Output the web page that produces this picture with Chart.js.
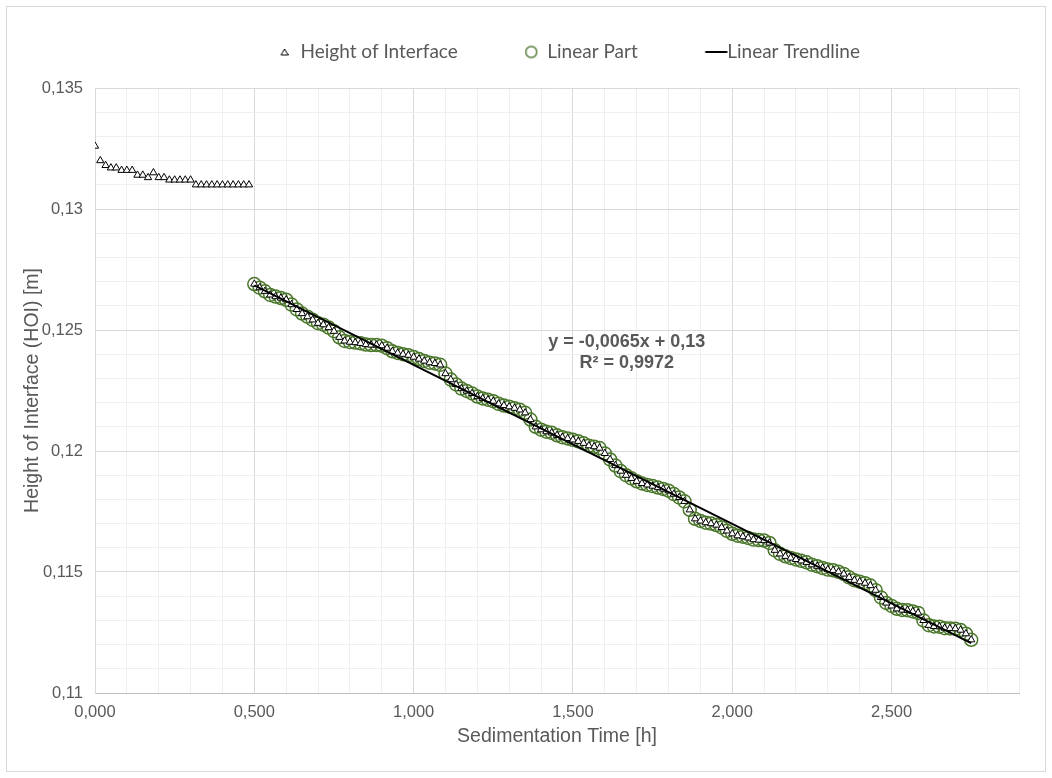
<!DOCTYPE html>
<html>
<head>
<meta charset="utf-8">
<script src="https://cdn.jsdelivr.net/npm/chart.js@4.4.0/dist/chart.umd.min.js"></script>
<style>
  html, body { margin: 0; padding: 0; background: #fff; }
  #wrap { position: relative; width: 1052px; height: 778px; }
  #wrap canvas { position: absolute; left: 0; top: 0; }
  #frame { position: absolute; left: 6px; top: 6px; width: 1038px; height: 764px; border: 1px solid #d9d9d9; pointer-events: none; }
</style>
</head>
<body>
<div id="wrap">
  <canvas id="chart" width="1052" height="778"></canvas>
  <div id="frame"></div>
</div>
<script>
// one reading per minute, time axis in hours
const minutesPerReading = 1;

// readings before the linear settling part (minute 0 - 29), m
const earlyHeight = [
  0.1326, 0.1320, 0.1318, 0.1317, 0.1317, 0.1316, 0.1316, 0.1316, 0.1314, 0.1314,
  0.1313, 0.1315, 0.1313, 0.1313, 0.1312, 0.1312, 0.1312, 0.1312, 0.1312, 0.1310,
  0.1310, 0.1310, 0.1310, 0.1310, 0.1310, 0.1310, 0.1310, 0.1310, 0.1310, 0.1310
];

// linear part (minute 30 - 165), m
const linearHeight = [
  0.12690, 0.12675, 0.12660, 0.12645, 0.12638, 0.12632, 0.12625, 0.12605, 0.12585, 0.12568,
  0.12555, 0.12542, 0.12528, 0.12522, 0.12510, 0.12495, 0.12470, 0.12455, 0.12450, 0.12448,
  0.12445, 0.12440, 0.12438, 0.12438, 0.12435, 0.12425, 0.12412, 0.12405, 0.12400, 0.12396,
  0.12388, 0.12380, 0.12372, 0.12365, 0.12362, 0.12356, 0.12320, 0.12295, 0.12275, 0.12258,
  0.12248, 0.12238, 0.12225, 0.12217, 0.12212, 0.12206, 0.12195, 0.12188, 0.12183, 0.12177,
  0.12170, 0.12158, 0.12130, 0.12100, 0.12088, 0.12080, 0.12075, 0.12065, 0.12057, 0.12052,
  0.12046, 0.12040, 0.12032, 0.12022, 0.12018, 0.12012, 0.11990, 0.11965, 0.11940, 0.11917,
  0.11900, 0.11887, 0.11875, 0.11866, 0.11860, 0.11855, 0.11849, 0.11843, 0.11836, 0.11822,
  0.11808, 0.11792, 0.11757, 0.11720, 0.11711, 0.11704, 0.11700, 0.11694, 0.11684, 0.11670,
  0.11658, 0.11650, 0.11646, 0.11641, 0.11634, 0.11632, 0.11630, 0.11620, 0.11590, 0.11575,
  0.11565, 0.11558, 0.11552, 0.11546, 0.11540, 0.11530, 0.11524, 0.11517, 0.11510, 0.11507,
  0.11501, 0.11492, 0.11478, 0.11466, 0.11460, 0.11454, 0.11444, 0.11425, 0.11395, 0.11372,
  0.11360, 0.11348, 0.11343, 0.11342, 0.11337, 0.11331, 0.11300, 0.11280, 0.11275, 0.11274,
  0.11268, 0.11267, 0.11266, 0.11260, 0.11245, 0.11220
];

const seriesNames = ["Height of Interface", "Linear Part", "Linear Trendline"];
const equationLines = ["y = -0,0065x + 0,13", "R\u00b2 = 0,9972"];

// axis settings
const xMin = 0, xMax = 2.9, xMinor = 0.1, xMajor = 0.5;
const yMin = 0.11, yMax = 0.135, yMinor = 0.001, yMajor = 0.005;

const grey = "#595959";
const green = "#4a772b";

let allHeight = earlyHeight.concat(linearHeight);
let heightPoints = allHeight.map((v, i) => ({ x: i * minutesPerReading / 60, y: v }));
let linearPoints = heightPoints.slice(earlyHeight.length);

// least squares fit over the linear part, like the spreadsheet trendline
let n = linearPoints.length;
let sx = 0, sy = 0, sxx = 0, sxy = 0;
linearPoints.forEach(p => { sx += p.x; sy += p.y; sxx += p.x * p.x; sxy += p.x * p.y; });
let slope = (n * sxy - sx * sy) / (n * sxx - sx * sx);
let intercept = (sy - slope * sx) / n;
let x0 = linearPoints[0].x, x1 = linearPoints[n - 1].x;
let trendPoints = [{ x: x0, y: intercept + slope * x0 }, { x: x1, y: intercept + slope * x1 }];

function isMultiple(v, step) {
  return Math.abs(v / step - Math.round(v / step)) < 1e-6;
}

function marker(w, h, draw) {
  let c = document.createElement("canvas");
  c.width = w; c.height = h;
  draw(c.getContext("2d"));
  return c;
}

// legend box is wide (46px) to get the gaps between items;
// markers are drawn in the right part of it, next to the text
let legendMarkers = [
  marker(41, 8, ctx => {
    ctx.beginPath();
    ctx.moveTo(37, 1); ctx.lineTo(40.5, 7); ctx.lineTo(33.5, 7); ctx.closePath();
    ctx.fillStyle = "#fff"; ctx.fill();
    ctx.strokeStyle = "#000"; ctx.lineWidth = 1; ctx.stroke();
  }),
  marker(47, 15, ctx => {
    ctx.beginPath();
    ctx.arc(40, 7.5, 5.5, 0, Math.PI * 2);
    ctx.strokeStyle = green; ctx.lineWidth = 1.4; ctx.stroke();
  }),
  marker(66, 4, ctx => {
    ctx.fillStyle = "#000"; ctx.fillRect(43.5, 1, 22, 2);
  })
];

const legendShift = 43;

const legendFix = {
  id: "legendFix",
  afterInit(chart) {
    let legend = chart.legend;
    let fit = legend.fit.bind(legend);
    legend.fit = function () { fit(); this.height = 79.5; };
    let draw = legend.draw.bind(legend);
    legend.draw = function () {
      chart.ctx.save();
      chart.ctx.translate(legendShift, 0);
      draw();
      chart.ctx.restore();
    };
  }
};

const equationLabel = {
  id: "equationLabel",
  afterDatasetsDraw(chart) {
    let ctx = chart.ctx;
    let xs = chart.scales.x, ys = chart.scales.y;
    let cx = xs.getPixelForValue(1.669);
    ctx.save();
    ctx.font = "bold 18px 'Liberation Sans', Arial, sans-serif";
    ctx.fillStyle = grey;
    ctx.textAlign = "center";
    ctx.textBaseline = "middle";
    ctx.fillText(equationLines[0], cx, ys.getPixelForValue(0.12452));
    ctx.fillText(equationLines[1], cx, ys.getPixelForValue(0.12365));
    ctx.restore();
  }
};

new Chart(document.getElementById("chart"), {
  type: "scatter",
  data: {
    datasets: [
      {
        label: seriesNames[0],
        data: heightPoints,
        pointStyle: "triangle",
        pointRadius: 4.2,
        borderWidth: 1,
        borderColor: "#000",
        backgroundColor: "#fff",
        order: 0
      },
      {
        label: seriesNames[1],
        data: linearPoints,
        pointStyle: "circle",
        pointRadius: 6.5,
        borderWidth: 1.5,
        borderColor: green,
        backgroundColor: "rgba(0,0,0,0)",
        order: 0
      },
      {
        label: seriesNames[2],
        data: trendPoints,
        showLine: true,
        pointRadius: 0,
        borderWidth: 2,
        borderColor: "#000",
        backgroundColor: "#000",
        order: -1
      }
    ]
  },
  options: {
    responsive: false,
    animation: false,
    layout: { padding: { top: 8.5, left: 0, right: 33, bottom: 0 } },
    plugins: {
      tooltip: { enabled: false },
      legend: {
        position: "top",
        labels: {
          usePointStyle: true,
          pointStyleWidth: 46,
          boxHeight: 7,
          padding: 34,
          color: grey,
          font: { family: "Lato, 'Open Sans', sans-serif", size: 19 },
          sort: (a, b) => a.datasetIndex - b.datasetIndex,
          generateLabels(chart) {
            let items = Chart.defaults.plugins.legend.labels.generateLabels(chart);
            items.forEach(it => { it.pointStyle = legendMarkers[it.datasetIndex]; });
            return items;
          }
        }
      }
    },
    scales: {
      x: {
        type: "linear",
        min: xMin,
        max: xMax,
        afterFit(scale) { scale.height = 85; },
        border: { color: "#bfbfbf", width: 1 },
        grid: {
          drawTicks: false,
          color: c => (c.tick && isMultiple(c.tick.value, xMajor)) ? "#d9d9d9" : "#efefef"
        },
        ticks: {
          stepSize: xMinor,
          autoSkip: false,
          maxRotation: 0,
          padding: 10,
          color: grey,
          font: { family: "'Liberation Sans', Arial, sans-serif", size: 16.5 },
          callback: v => isMultiple(v, xMajor) ? v.toFixed(3).replace(".", ",") : ""
        },
        title: {
          display: true,
          text: "Sedimentation Time [h]",
          color: grey,
          font: { family: "'Liberation Sans', Arial, sans-serif", size: 19.5 },
          padding: { top: 4, bottom: 30 }
        }
      },
      y: {
        type: "linear",
        min: yMin,
        max: yMax,
        afterFit(scale) { scale.width = 95; },
        border: { color: "#d9d9d9", width: 1 },
        grid: {
          drawTicks: false,
          color: c => (c.tick && isMultiple(c.tick.value, yMajor)) ? "#d9d9d9" : "#efefef"
        },
        ticks: {
          stepSize: yMinor,
          autoSkip: false,
          padding: 12,
          color: grey,
          font: { family: "'Liberation Sans', Arial, sans-serif", size: 16.5 },
          callback: v => isMultiple(v, yMajor) ? String(parseFloat(v.toFixed(3))).replace(".", ",") : ""
        },
        title: {
          display: true,
          text: "Height of Interface (HOI) [m]",
          color: grey,
          font: { family: "'Liberation Sans', Arial, sans-serif", size: 19.5 },
          padding: { top: 21, bottom: 0 }
        }
      }
    }
  },
  plugins: [legendFix, equationLabel]
});
</script>
</body>
</html>
